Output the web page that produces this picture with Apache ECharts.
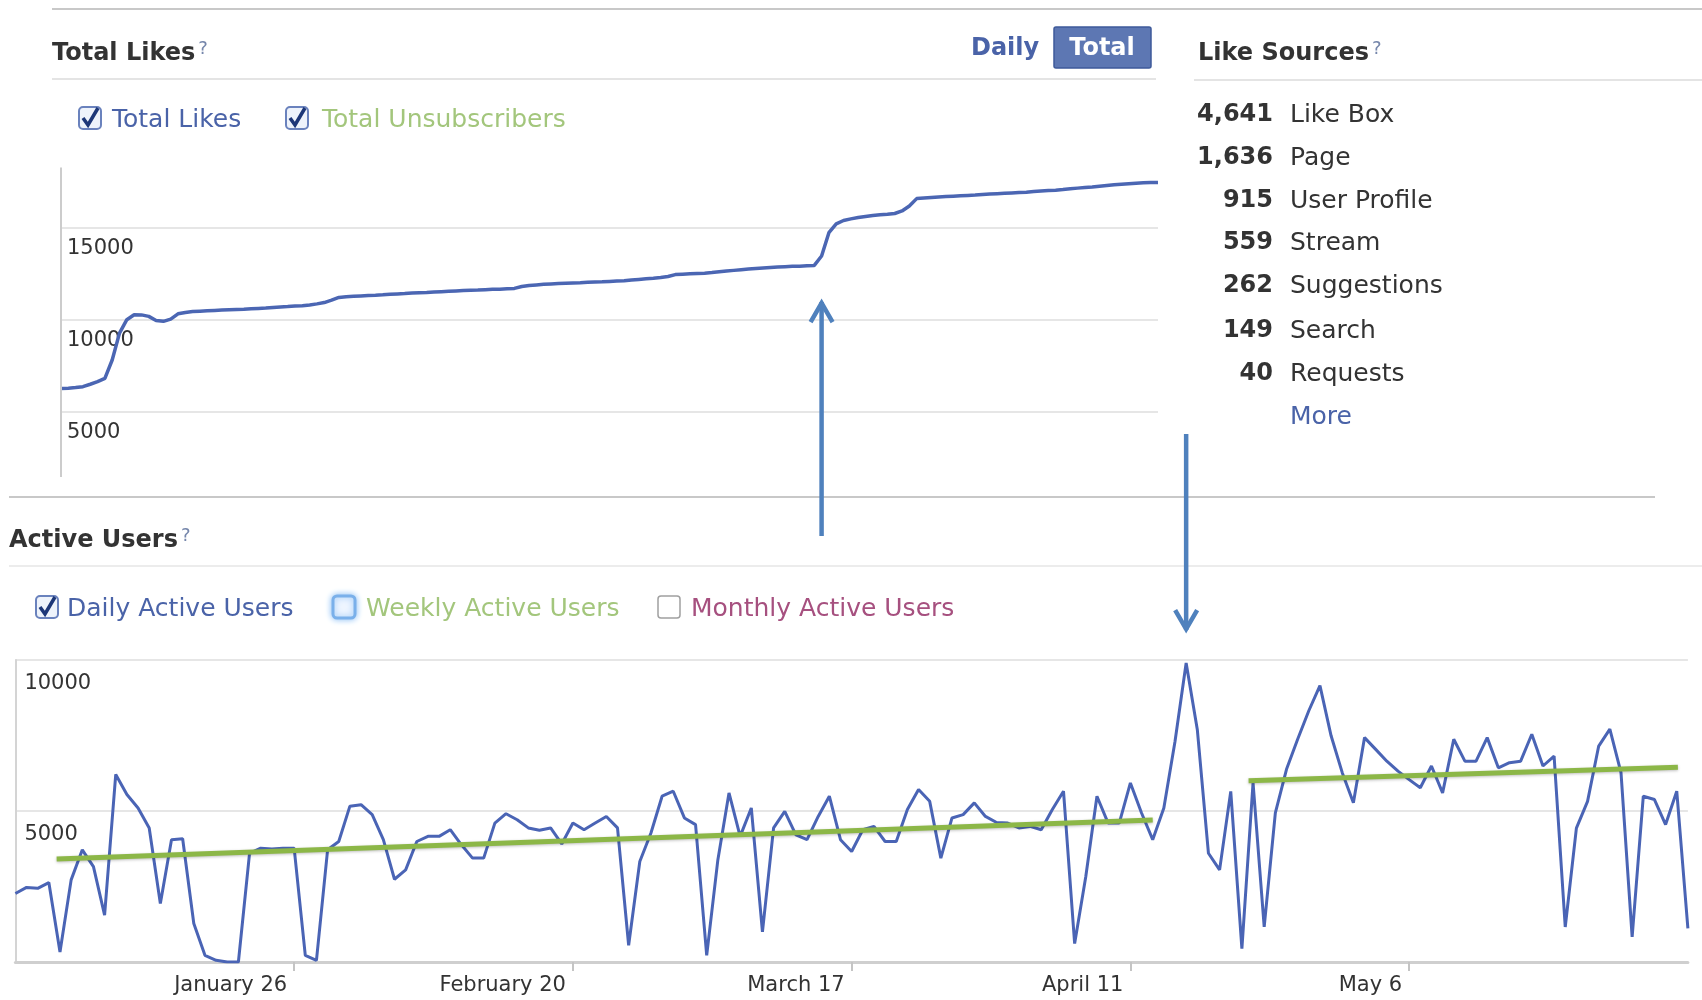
<!DOCTYPE html>
<html>
<head>
<meta charset="utf-8">
<title>Page Insights</title>
<script src="https://cdn.jsdelivr.net/npm/echarts@6/dist/echarts.min.js"></script>
<style>
  html, body { margin: 0; padding: 0; background: #fff; }
  #main { width: 1702px; height: 1000px; }
</style>
</head>
<body>
<div id="main"></div>
<script>
// Total Likes, one value per day (Jan 1 .. May 31)
const totalLikes = [
  6250, 6270, 6300, 6350, 6480, 6620, 6800, 7800, 9260, 9990,
  10260, 10250, 10170, 9950, 9900, 10020, 10310, 10380, 10430, 10450,
  10470, 10490, 10510, 10530, 10550, 10560, 10580, 10600, 10620, 10650,
  10680, 10700, 10730, 10750, 10790, 10850, 10920, 11050, 11200, 11240,
  11260, 11280, 11300, 11315, 11340, 11370, 11390, 11410, 11440, 11460,
  11470, 11490, 11510, 11530, 11550, 11570, 11590, 11600, 11620, 11640,
  11650, 11670, 11690, 11790, 11850, 11880, 11910, 11930, 11950, 11970,
  11990, 12000, 12020, 12040, 12050, 12070, 12090, 12110, 12150, 12180,
  12210, 12240, 12280, 12340, 12440, 12460, 12480, 12500, 12520, 12550,
  12590, 12630, 12670, 12710, 12740, 12770, 12800, 12830, 12850, 12870,
  12890, 12900, 12920, 12940, 13450, 14720, 15200, 15380, 15470, 15540,
  15600, 15650, 15690, 15720, 15760, 15900, 16170, 16570, 16600, 16630,
  16660, 16680, 16700, 16720, 16740, 16760, 16790, 16820, 16840, 16860,
  16880, 16900, 16920, 16950, 16980, 17010, 17030, 17060, 17100, 17140,
  17170, 17200, 17240, 17280, 17320, 17350, 17380, 17410, 17430, 17440,
  17450
];

// Daily Active Users, same days
const dailyActive = [
  2270, 2470, 2440, 2630, 330, 2720, 3715, 3160, 1550, 6210,
  5545, 5100, 4435, 1940, 4050, 4080, 1275, 220, 55, 0,
  0, 3600, 3770, 3740, 3770, 3770, 220, 55, 3715, 3990,
  5160, 5210, 4880, 4050, 2740, 3050, 3990, 4160, 4160, 4380,
  3880, 3440, 3440, 4600, 4910, 4710, 4440, 4360, 4440, 3910,
  4600, 4380, 4600, 4820, 4440, 555, 3330, 4270, 5490, 5655,
  4770, 4550, 220, 3380, 5600, 4160, 5100, 1000, 4440, 4990,
  4210, 4050, 4820, 5490, 4050, 3660, 4380, 4490, 3990, 3990,
  5050, 5710, 5320, 3440, 4770, 4880, 5270, 4820, 4620, 4600,
  4440, 4490, 4380, 5050, 5655, 610, 2830, 5490, 4600, 4600,
  5930, 4935, 4050, 5100, 7300, 9900, 7700, 3600, 3050, 5650,
  440, 5930, 1160, 4935, 6380, 7375, 8320, 9150, 7490, 6270,
  5270, 7430, 7040, 6650, 6320, 6040, 5770, 6490, 5600, 7375,
  6650, 6650, 7430, 6430, 6600, 6650, 7540, 6490, 6820, 1160,
  4435, 5320, 7150, 7710, 6270, 830, 5490, 5380, 4550, 5655,
  1110
];

// hand-drawn trend lines: [day, users]
const trendEarly = [[3.7, 3410], [102, 4700]];
const trendLate = [[110.6, 6000], [149.1, 6450]];

const tickLabels = ['January 26', 'February 20', 'March 17', 'April 11', 'May 6'];

const sourceNames = ['Like Box', 'Page', 'User Profile', 'Stream', 'Suggestions', 'Search', 'Requests'];
const sourceCounts = ['4,641', '1,636', '915', '559', '262', '149', '40'];

const monthNames = ['January', 'February', 'March', 'April', 'May'];
const monthDays = [31, 28, 31, 30, 31];
const days = [];
monthNames.forEach(function (m, i) {
  for (let d = 1; d <= monthDays[i]; d++) days.push(m + ' ' + d);
});

const FONT = '"DejaVu Sans", sans-serif';
const BLUE = '#4a63a8';
const GREEN = '#a3c67c';

const chart = echarts.init(document.getElementById('main'));

function txt(x, y, text, size, color, weight, align) {
  return {
    type: 'text', x: x, y: y, silent: true, z: 10,
    style: {
      text: text, fontSize: size, fontFamily: FONT, fontWeight: weight || 'normal',
      fill: color, textAlign: align || 'left', textVerticalAlign: 'middle'
    }
  };
}

function heading(x, y, text) {
  return {
    type: 'text', x: x, y: y, silent: true, z: 10,
    style: {
      text: '{h|' + text + '}{q|?}',
      textVerticalAlign: 'middle',
      rich: {
        h: { fontSize: 24, fontWeight: 'bold', fill: '#333', fontFamily: FONT, lineHeight: 28 },
        q: { fontSize: 18, fill: '#7586ab', fontFamily: FONT, verticalAlign: 'top', lineHeight: 20, padding: [0, 0, 0, 3] }
      }
    }
  };
}

function hline(x1, x2, y, color, w) {
  return {
    type: 'line', silent: true, z: 1,
    shape: { x1: x1, y1: y, x2: x2, y2: y },
    style: { stroke: color, lineWidth: w }
  };
}

function checkbox(x, y, kind) {
  const els = [];
  if (kind === 'on') {
    els.push({ type: 'rect', silent: true, z: 10, shape: { x: x, y: y, width: 22, height: 22, r: 4 },
      style: { fill: '#eef3fb', stroke: '#6a82bd', lineWidth: 2 } });
    els.push({ type: 'polyline', silent: true, z: 11,
      shape: { points: [[x + 4, y + 11], [x + 9, y + 18], [x + 19, y + 1]] },
      style: { stroke: '#1d3778', lineWidth: 3.5, fill: null } });
  } else if (kind === 'focus') {
    els.push({ type: 'rect', silent: true, z: 10, shape: { x: x, y: y, width: 22, height: 22, r: 4 },
      style: { fill: '#eef5ff', stroke: '#7ab0ea', lineWidth: 3, shadowBlur: 6, shadowColor: '#8ec0f5' } });
  } else {
    els.push({ type: 'rect', silent: true, z: 10, shape: { x: x, y: y, width: 22, height: 22, r: 3 },
      style: { fill: '#fff', stroke: '#a0a0a0', lineWidth: 1.5 } });
  }
  return els;
}

function arrow(tail, tip, dir) {
  const c = '#4f81bd';
  return [
    { type: 'polyline', silent: true, z: 50,
      shape: { points: [tail, tip] },
      style: { stroke: c, lineWidth: 4.5, fill: null } },
    { type: 'polyline', silent: true, z: 50,
      shape: { points: [[tip[0] - 11, tip[1] + 20 * dir], [tip[0], tip[1] + 1 * dir], [tip[0] + 11, tip[1] + 20 * dir]] },
      style: { stroke: c, lineWidth: 4.5, fill: null, lineJoin: 'miter' } }
  ];
}

const labelStyle = { color: '#333', fontSize: 21, fontFamily: FONT };

const option = {
  animation: false,
  backgroundColor: '#fff',
  grid: [
    { left: 61, top: 135.5, width: 1097, height: 368 },
    { left: 15.4, top: 660, width: 1672.5, height: 302 }
  ],
  xAxis: [
    { gridIndex: 0, type: 'category', data: days, boundaryGap: false, show: false },
    {
      gridIndex: 1, type: 'category', data: days, boundaryGap: false,
      axisLine: { lineStyle: { color: '#cfcfcf', width: 3 } },
      axisTick: {
        interval: function (i, v) { return tickLabels.indexOf(v) >= 0; },
        length: 9, lineStyle: { color: '#c4c4c4', width: 2 }
      },
      axisLabel: Object.assign({
        interval: function (i, v) { return tickLabels.indexOf(v) >= 0; },
        align: 'right', padding: [0, 7, 0, 0], margin: 13
      }, labelStyle)
    },
    { gridIndex: 1, type: 'value', min: 0, max: 150, show: false }
  ],
  yAxis: [
    {
      gridIndex: 0, type: 'value', min: 0, max: 20000, interval: 5000,
      axisLine: { show: false }, axisTick: { show: false },
      splitLine: { showMinLine: false, showMaxLine: false, lineStyle: { color: '#e6e6e6', width: 2 } },
      axisLabel: Object.assign({
        inside: true, margin: 6, verticalAlign: 'top', padding: [11, 0, 0, 0],
        formatter: function (v) { return v > 0 && v < 20000 ? String(v) : ''; }
      }, labelStyle)
    },
    {
      gridIndex: 1, type: 'value', min: 0, max: 10000, interval: 5000,
      axisLine: { show: true, lineStyle: { color: '#d4d4d4', width: 2 } }, axisTick: { show: false },
      splitLine: { showMinLine: false, lineStyle: { color: '#e6e6e6', width: 2 } },
      axisLabel: Object.assign({
        inside: true, margin: 9, verticalAlign: 'top', padding: [13, 0, 0, 0],
        formatter: function (v) { return v > 0 ? String(v) : ''; }
      }, labelStyle)
    }
  ],
  series: [
    {
      name: 'Total Likes', type: 'line', xAxisIndex: 0, yAxisIndex: 0,
      data: totalLikes, symbol: 'none', silent: true,
      lineStyle: { color: '#4b66b3', width: 3.5 },
      markLine: {
        silent: true, symbol: ['none', 'none'], label: { show: false },
        lineStyle: { color: '#cccccc', width: 2, type: 'solid' },
        data: [[{ coord: [0, 1440] }, { coord: [0, 18260] }]]
      }
    },
    {
      name: 'Daily Active Users', type: 'line', xAxisIndex: 1, yAxisIndex: 1,
      data: dailyActive, symbol: 'none', silent: true,
      lineStyle: { color: '#4a64b5', width: 3 }
    },
    {
      name: 'trend early', type: 'line', xAxisIndex: 2, yAxisIndex: 1,
      data: trendEarly, symbol: 'none', silent: true, z: 5,
      lineStyle: { color: '#8cb747', width: 5, shadowBlur: 3, shadowColor: 'rgba(0,0,0,0.25)', shadowOffsetY: 1 }
    },
    {
      name: 'trend late', type: 'line', xAxisIndex: 2, yAxisIndex: 1,
      data: trendLate, symbol: 'none', silent: true, z: 5,
      lineStyle: { color: '#8cb747', width: 5, shadowBlur: 3, shadowColor: 'rgba(0,0,0,0.25)', shadowOffsetY: 1 }
    }
  ]
};

chart.setOption(option);

// page chrome around the charts
let g = [];
g.push(hline(52, 1702, 9, '#c8c8c8', 2));
g.push(heading(52, 54, 'Total Likes'));
g.push(txt(971, 49, 'Daily', 24, BLUE, 'bold'));
g.push({ type: 'rect', silent: true, z: 9, shape: { x: 1054, y: 27, width: 97, height: 41, r: 2 },
  style: { fill: '#5d77b3', stroke: '#3e5a9a', lineWidth: 1.5 } });
g.push(txt(1102, 49, 'Total', 24, '#fff', 'bold', 'center'));
g.push(hline(52, 1156, 79, '#e4e4e4', 2));
g = g.concat(checkbox(79, 107, 'on'));
g.push(txt(112, 120, 'Total Likes', 25, BLUE));
g = g.concat(checkbox(286, 107, 'on'));
g.push(txt(322, 120, 'Total Unsubscribers', 25, GREEN));

g.push(heading(1198, 54, 'Like Sources'));
g.push(hline(1194, 1702, 80, '#e4e4e4', 2));
const rowY = [115, 158, 201, 243, 286, 331, 374];
sourceNames.forEach(function (name, i) {
  g.push(txt(1273, rowY[i], sourceCounts[i], 24, '#333', 'bold', 'right'));
  g.push(txt(1290, rowY[i], name, 25, '#333'));
});
g.push(txt(1290, 417, 'More', 25, BLUE));

g.push(hline(9, 1655, 497, '#c8c8c8', 2));
g.push(heading(9, 541, 'Active Users'));
g.push(hline(9, 1702, 566, '#e6e6e6', 1.5));
g = g.concat(checkbox(36, 596, 'on'));
g.push(txt(67, 609, 'Daily Active Users', 25, BLUE));
g = g.concat(checkbox(333, 596, 'focus'));
g.push(txt(366, 609, 'Weekly Active Users', 25, GREEN));
g = g.concat(checkbox(658, 596, 'off'));
g.push(txt(691, 609, 'Monthly Active Users', 25, '#a6507f'));

// annotation arrows, anchored to the jump in likes and the spike in users
const upTail = chart.convertToPixel({ xAxisIndex: 0, yAxisIndex: 0 }, [104, -1770]);
const upTip = chart.convertToPixel({ xAxisIndex: 0, yAxisIndex: 0 }, [104, 10950]);
const downTail = chart.convertToPixel({ xAxisIndex: 1, yAxisIndex: 1 }, [105, 17480]);
const downTip = chart.convertToPixel({ xAxisIndex: 1, yAxisIndex: 1 }, [105, 10990]);
g = g.concat(arrow(upTail, upTip, 1));
g = g.concat(arrow(downTail, downTip, -1));

chart.setOption({ graphic: g });
</script>
</body>
</html>
